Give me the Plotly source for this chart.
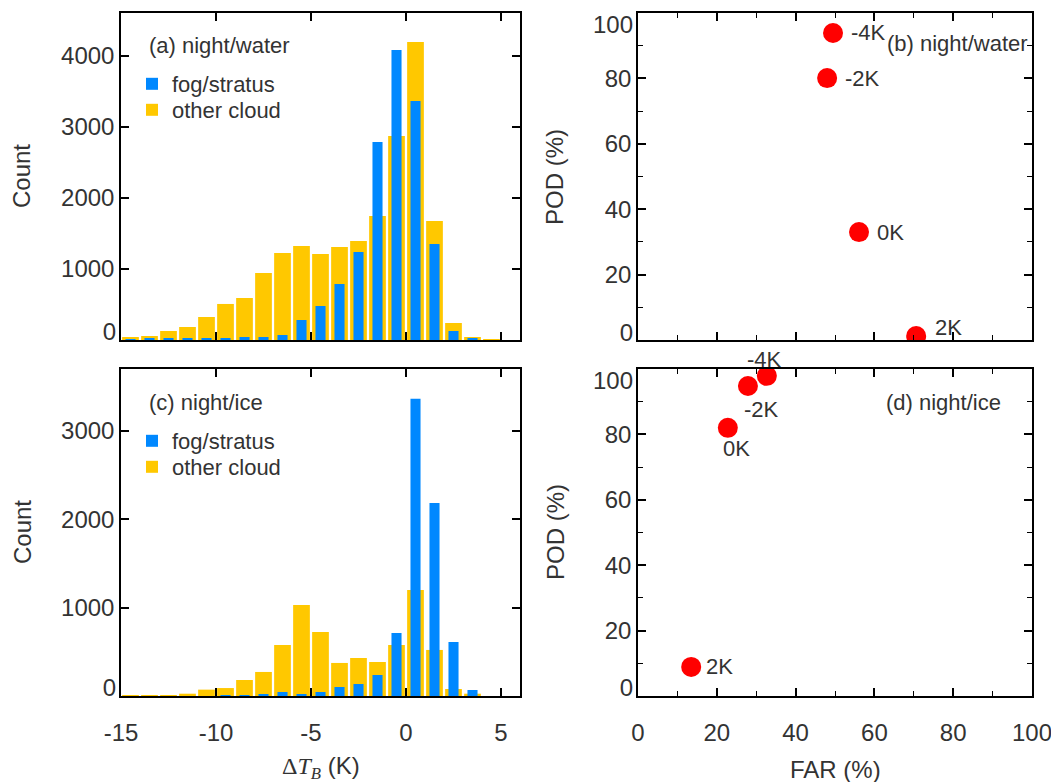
import plotly.graph_objects as go

# ---------------- data ----------------
bin_centers = [-14.5, -13.5, -12.5, -11.5, -10.5, -9.5, -8.5, -7.5, -6.5, -5.5,
               -4.5, -3.5, -2.5, -1.5, -0.5, 0.5, 1.5, 2.5, 3.5, 4.5]

water_fog = [8, 15, 15, 15, 15, 15, 42, 42, 70, 281,
             478, 788, 1238, 2786, 4081, 3363, 1351, 127, 15, 0]
water_other = [42, 56, 127, 183, 324, 507, 591, 943, 1224, 1323,
               1210, 1309, 1393, 1745, 2871, 4193, 1675, 239, 42, 14]

ice_fog = [0, 0, 0, 0, 0, 4, 4, 15, 45, 23,
           45, 102, 136, 238, 713, 3363, 2185, 611, 68, 0]
ice_other = [3, 6, 10, 26, 72, 90, 181, 272, 577, 1030,
             725, 374, 430, 385, 577, 1200, 521, 79, 26, 0]

thresholds = ["-4K", "-2K", "0K", "2K"]
water_far = [49.5, 48.0, 56.1, 70.6]
water_pod = [93.9, 80.1, 33.0, 1.2]
ice_far = [32.7, 27.9, 22.8, 13.5]
ice_pod = [97.9, 94.8, 82.0, 8.9]

hist_xticks = [-15, -10, -5, 0, 5]
hist_xticktext = ["-15", "-10", "-5", "0", "5"]
water_count_ticks = [0, 1000, 2000, 3000, 4000]
ice_count_ticks = [0, 1000, 2000, 3000]
pct_ticks = [0, 20, 40, 60, 80, 100]

# ---------------- style ----------------
# the page body has an 8px margin, so the figure is drawn 8px in from the corner
OFF = 8
FW, FH = 1059 - OFF, 782 - OFF
BLUE = "#0088ff"
GOLD = "#ffc800"
RED = "#ff0000"
TXT = "#333333"
FONT = "Liberation Sans, Arial, sans-serif"
TICKFONT = dict(family=FONT, size=24, color=TXT)


def px_x(p):
    return (p - OFF) / FW


def px_y(p):
    return 1 - (p - OFF) / FH


fig = go.Figure()

# histograms: other cloud behind, fog/stratus in front
fig.add_trace(go.Bar(x=bin_centers, y=water_other, width=0.88, marker_color=GOLD,
                     marker_line_width=0, name="other cloud",
                     xaxis="x", yaxis="y", legend="legend2"))
fig.add_trace(go.Bar(x=bin_centers, y=water_fog, width=0.53, marker_color=BLUE,
                     marker_line_width=0, name="fog/stratus",
                     xaxis="x", yaxis="y", legend="legend"))
fig.add_trace(go.Bar(x=bin_centers, y=ice_other, width=0.88, marker_color=GOLD,
                     marker_line_width=0, name="other cloud",
                     xaxis="x3", yaxis="y3", legend="legend4"))
fig.add_trace(go.Bar(x=bin_centers, y=ice_fog, width=0.53, marker_color=BLUE,
                     marker_line_width=0, name="fog/stratus",
                     xaxis="x3", yaxis="y3", legend="legend3"))

# POD vs FAR scatter
fig.add_trace(go.Scatter(x=water_far, y=water_pod, mode="markers",
                         marker=dict(color=RED, size=20), showlegend=False,
                         xaxis="x2", yaxis="y2"))
fig.add_trace(go.Scatter(x=ice_far, y=ice_pod, mode="markers",
                         marker=dict(color=RED, size=20), showlegend=False,
                         xaxis="x4", yaxis="y4"))

# empty traces so the small overlay axes carrying the end labels get drawn
for xa, ya in [("x", "y5"), ("x2", "y6"), ("x2", "y7"),
               ("x3", "y8"), ("x4", "y9"), ("x4", "y10")]:
    fig.add_trace(go.Scatter(x=[], y=[], mode="markers", showlegend=False,
                             hoverinfo="skip", xaxis=xa, yaxis=ya))

xL = [px_x(121), px_x(520)]
xR = [px_x(638), px_x(1032)]
yT = [px_y(340), px_y(13)]
yB = [px_y(696), px_y(369)]

common = dict(showline=True, linecolor="black", linewidth=1.5, mirror="ticks",
              ticks="inside", ticklen=8, tickwidth=1.5, tickcolor="black",
              showgrid=False, zeroline=False, automargin=False,
              ticklabeloverflow="allow", tickfont=TICKFONT)

minor = dict(tickmode="linear", tick0=0, dtick=10, ticks="inside", ticklen=5,
             tickwidth=1.2, tickcolor="black", showgrid=False)


def inner_text(vals):
    # the end labels are drawn by the small overlay axes below (nudged inwards)
    return [""] + [str(v) for v in vals[1:]]


def inner_text_pct(vals):
    return [""] + [str(v) for v in vals[1:-1]] + [""]


def edge_axis(base, anchor, rng, val, shift):
    # positive shift moves the label down the page
    return dict(overlaying=base, anchor=anchor, range=rng, side="left",
                tickmode="array", tickvals=[val], ticktext=[str(val)],
                ticks="", showline=False, showgrid=False, zeroline=False,
                ticklabelstandoff=4, ticklabelshift=shift, ticklabeloverflow="allow",
                automargin=False, tickfont=TICKFONT, fixedrange=True)


def leg(px, py):
    return dict(x=px_x(px), y=px_y(py), xanchor="left", yanchor="middle",
                bgcolor="rgba(0,0,0,0)", font=dict(family=FONT, size=22, color=TXT))


fig.update_layout(
    width=FW, height=FH,
    margin=dict(l=0, r=0, t=0, b=0, pad=0, autoexpand=False),
    paper_bgcolor="white", plot_bgcolor="white",
    barmode="overlay",
    font=dict(family=FONT, size=22, color=TXT),
    xaxis=dict(domain=xL, anchor="y", range=[-15, 6], tickvals=hist_xticks,
               ticktext=hist_xticktext, showticklabels=False, **common),
    yaxis=dict(domain=yT, anchor="x", range=[0, 4600], tickvals=water_count_ticks,
               ticktext=inner_text(water_count_ticks), ticklabelstandoff=0, **common),
    xaxis3=dict(domain=xL, anchor="y3", range=[-15, 6], tickvals=hist_xticks,
                ticktext=hist_xticktext, ticklabelstandoff=14, **common),
    yaxis3=dict(domain=yB, anchor="x3", range=[0, 3700], tickvals=ice_count_ticks,
                ticktext=inner_text(ice_count_ticks), ticklabelstandoff=0, **common),
    xaxis2=dict(domain=xR, anchor="y2", range=[0, 100], tickvals=pct_ticks,
                showticklabels=False, minor=minor, **common),
    yaxis2=dict(domain=yT, anchor="x2", range=[0, 100], tickvals=pct_ticks,
                ticktext=inner_text_pct(pct_ticks), ticklabelstandoff=0,
                minor=minor, **common),
    xaxis4=dict(domain=xR, anchor="y4", range=[0, 100], tickvals=pct_ticks,
                ticklabelstandoff=14, minor=minor, **common),
    yaxis4=dict(domain=yB, anchor="x4", range=[0, 100], tickvals=pct_ticks,
                ticktext=inner_text_pct(pct_ticks), ticklabelstandoff=0,
                minor=minor, **common),
    yaxis5=edge_axis("y", "x", [0, 4600], water_count_ticks[0], -8),
    yaxis6=edge_axis("y2", "x2", [0, 100], pct_ticks[0], -7),
    yaxis7=edge_axis("y2", "x2", [0, 100], pct_ticks[-1], 12),
    yaxis8=edge_axis("y3", "x3", [0, 3700], ice_count_ticks[0], -8),
    yaxis9=edge_axis("y4", "x4", [0, 100], pct_ticks[0], -8),
    yaxis10=edge_axis("y4", "x4", [0, 100], pct_ticks[-1], 12),
    legend=leg(132, 84),
    legend2=leg(132, 110),
    legend3=leg(132, 441),
    legend4=leg(132, 467),
)

annotations = []

# point labels (offsets in pixels)
water_offsets = [("left", 16, 0), ("left", 16, 0), ("left", 16, 0), ("left", 17, 9)]
ice_offsets = [("center", -2, 16), ("center", 14, -23), ("center", 9, -21), ("left", 13, 0)]
for lab, fx, py, (xa, xs, ys) in zip(thresholds, water_far, water_pod, water_offsets):
    annotations.append(dict(x=fx, y=py, xref="x2", yref="y2", text=lab, showarrow=False,
                            xanchor=xa, yanchor="middle", xshift=xs, yshift=ys,
                            font=dict(family=FONT, size=22, color=TXT)))
for lab, fx, py, (xa, xs, ys) in zip(thresholds, ice_far, ice_pod, ice_offsets):
    annotations.append(dict(x=fx, y=py, xref="x4", yref="y4", text=lab, showarrow=False,
                            xanchor=xa, yanchor="middle", xshift=xs, yshift=ys,
                            font=dict(family=FONT, size=22, color=TXT)))

# panel labels
panel_labels = [("(a) night/water", 147, 45, "left"),
                ("(b) night/water", 1030, 44, "right"),
                ("(c) night/ice", 147, 402, "left"),
                ("(d) night/ice", 1003, 402, "right")]
for txt, px, py, xa in panel_labels:
    annotations.append(dict(x=px_x(px), y=px_y(py), xref="paper", yref="paper", text=txt,
                            showarrow=False, xanchor=xa, yanchor="middle",
                            font=dict(family=FONT, size=22, color=TXT)))

# axis titles
titles = [("Count", 22, 176, -90), ("Count", 22, 532, -90),
          ("POD (%)", 555, 177, -90), ("POD (%)", 555, 532, -90),
          ('<span style="font-family:Liberation Serif">Δ<i>T</i><sub><i>B</i></sub></span> (K)',
           321, 767, 0),
          ("FAR (%)", 835, 769, 0)]
for txt, px, py, ang in titles:
    annotations.append(dict(x=px_x(px), y=px_y(py), xref="paper", yref="paper", text=txt,
                            showarrow=False, xanchor="center", yanchor="middle",
                            textangle=ang, font=dict(family=FONT, size=24, color=TXT)))

fig.update_layout(annotations=annotations)

fig.write_html("out.html")
